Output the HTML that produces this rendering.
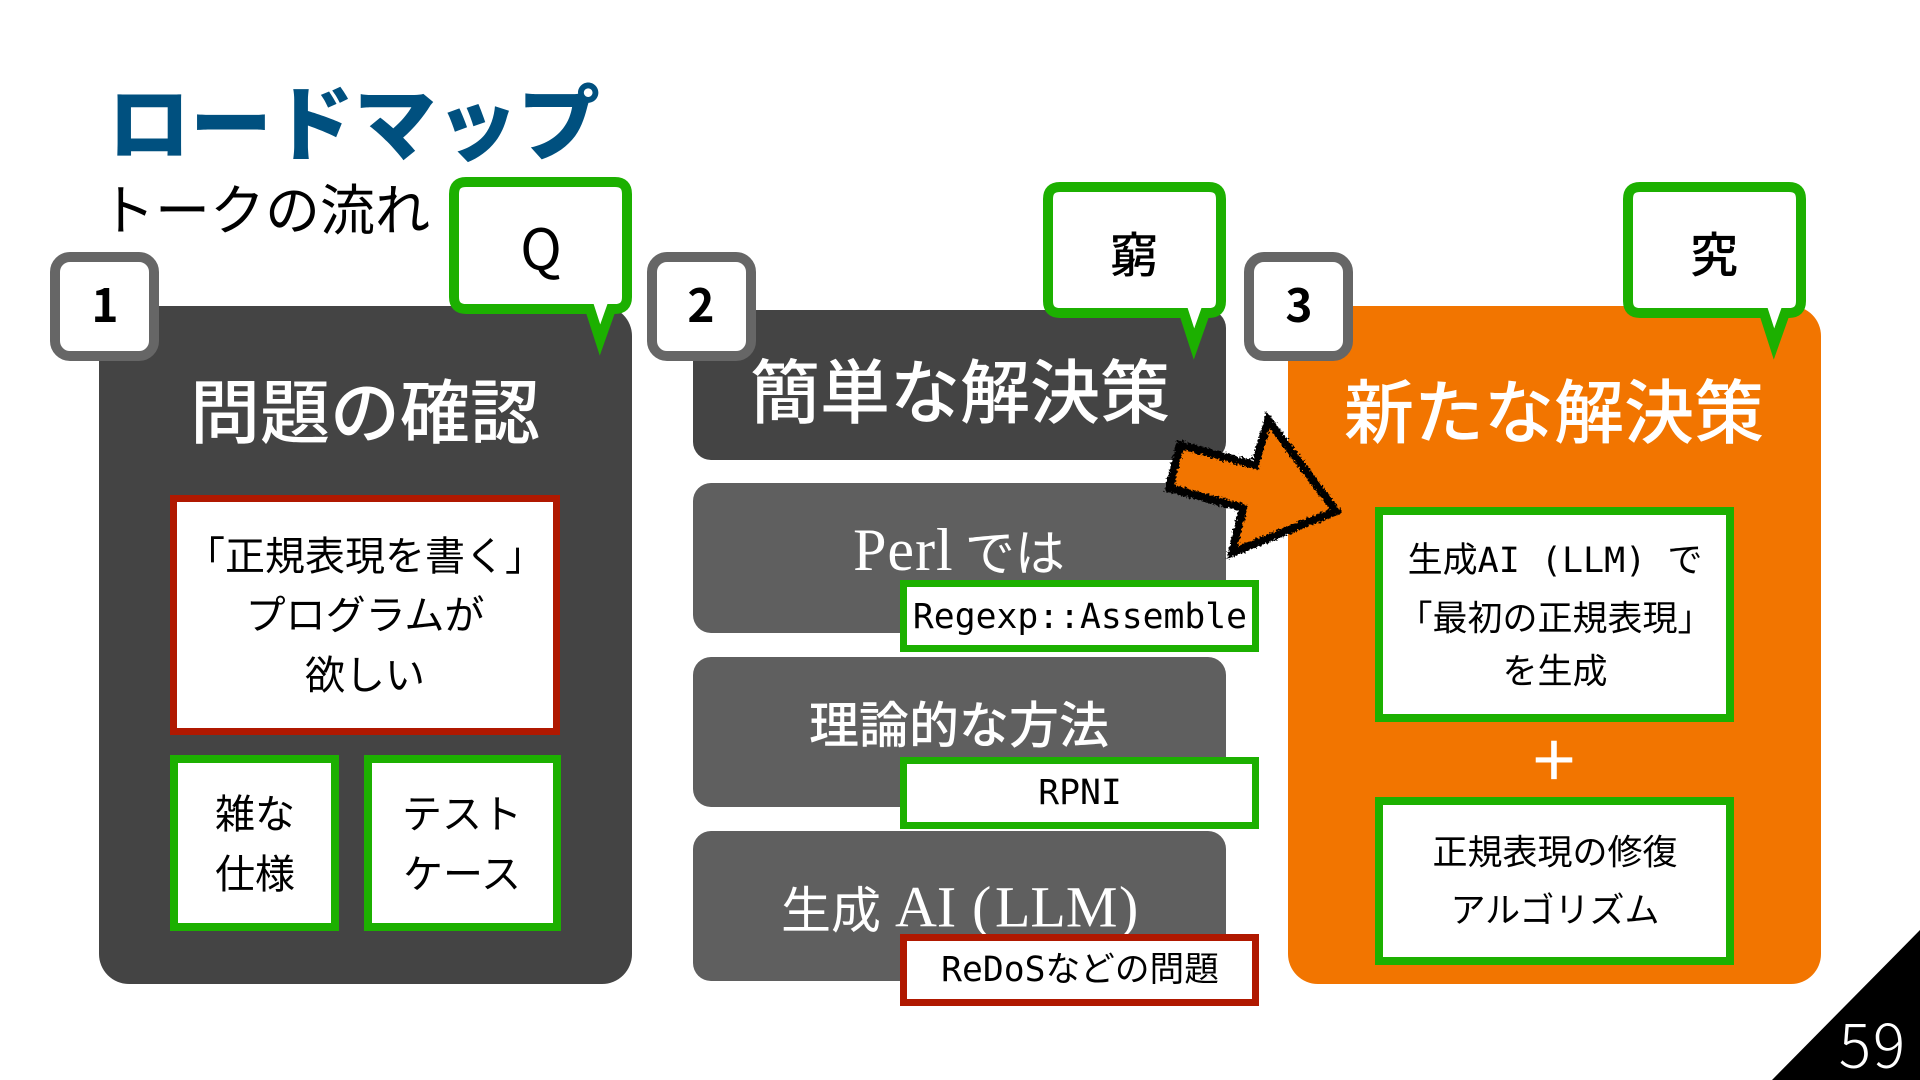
<!DOCTYPE html>
<html lang="ja"><head><meta charset="utf-8"><title>ロードマップ</title>
<style>
html,body{margin:0;padding:0;background:#fff;width:1920px;height:1080px;overflow:hidden}
svg{display:block}
text{font-family:"Noto Sans CJK JP","Liberation Sans",sans-serif;text-anchor:middle;dominant-baseline:central}
.m{font-family:"DejaVu Sans Mono","Noto Sans CJK JP",monospace}
.s{font-family:"Liberation Serif","Noto Sans CJK JP",serif;font-size:58px}
.st{font-family:"Liberation Serif","Noto Sans CJK JP",serif;font-size:58px;text-anchor:start}
.jt{text-anchor:start}
</style></head><body>
<svg width="1920" height="1080" viewBox="0 0 1920 1080" xmlns="http://www.w3.org/2000/svg">
<defs>
<filter id="rough" x="-10%" y="-10%" width="120%" height="120%">
<feTurbulence type="fractalNoise" baseFrequency="0.45" numOctaves="2" seed="4"/>
<feDisplacementMap in="SourceGraphic" scale="7" xChannelSelector="R" yChannelSelector="G"/>
</filter>
</defs>
<text x="354" y="118" font-size="82" font-weight="900" fill="#00507f">ロードマップ</text>
<text x="265" y="206" font-size="55" font-weight="400" fill="#000">トークの流れ</text>

<!-- panels -->
<rect x="99" y="306" width="533" height="678" rx="30" fill="#444"/>
<rect x="1288" y="306" width="533" height="678" rx="30" fill="#f27500"/>
<rect x="693" y="310" width="533" height="150" rx="18" fill="#444"/>
<rect x="693" y="483" width="533" height="150" rx="18" fill="#5f5f5f"/>
<rect x="693" y="657" width="533" height="150" rx="18" fill="#5f5f5f"/>
<rect x="693" y="831" width="533" height="150" rx="18" fill="#5f5f5f"/>

<text x="365" y="408" font-size="70" font-weight="500" fill="#fff">問題の確認</text>
<text x="960" y="388" font-size="70" font-weight="500" fill="#fff">簡単な解決策</text>
<text x="1554" y="408" font-size="70" font-weight="500" fill="#fff">新たな解決策</text>

<text x="959" y="550" font-size="50" fill="#fff"><tspan class="s" style="font-size:60px;letter-spacing:1px">Perl</tspan> では</text>
<text x="959" y="722" font-size="50" font-weight="500" fill="#fff">理論的な方法</text>
<text class="jt" x="781" y="907" font-size="50" fill="#fff">生成</text>
<text class="st" x="895" y="907" fill="#fff">AI</text>
<text class="st" x="972" y="907" fill="#fff" font-weight="300">(</text>
<text class="st" x="995" y="907" fill="#fff">LLM</text>
<text class="st" x="1119" y="907" fill="#fff" font-weight="300">)</text>

<!-- panel 1 boxes -->
<rect x="173.5" y="498.5" width="383" height="233" fill="#fff" stroke="#b01800" stroke-width="7"/>
<text x="365" y="553" font-size="40">「正規表現を書く」</text>
<text x="365" y="612" font-size="40">プログラムが</text>
<text x="365" y="672" font-size="40">欲しい</text>
<rect x="174" y="759" width="161" height="168" fill="#fff" stroke="#1cb000" stroke-width="8"/>
<rect x="368" y="759" width="189" height="168" fill="#fff" stroke="#1cb000" stroke-width="8"/>
<text x="255" y="811" font-size="40">雑な</text>
<text x="255" y="871" font-size="40">仕様</text>
<text x="462" y="811" font-size="40">テスト</text>
<text x="462" y="871" font-size="40">ケース</text>

<!-- middle boxes -->
<rect x="903.5" y="583.5" width="352" height="65" fill="#fff" stroke="#1cb000" stroke-width="7"/>
<rect x="903.5" y="760.5" width="352" height="65" fill="#fff" stroke="#1cb000" stroke-width="7"/>
<rect x="903.5" y="937.5" width="352" height="65" fill="#fff" stroke="#b01800" stroke-width="7"/>
<text class="m" x="1080" y="617" font-size="34.7">Regexp::Assemble</text>
<text class="m" x="1080" y="793" font-size="34.7">RPNI</text>
<text class="m" x="1080" y="970" font-size="34.7">ReDoSなどの問題</text>

<!-- panel 3 boxes -->
<rect x="1379" y="511" width="351" height="207" fill="#fff" stroke="#1cb000" stroke-width="8"/>
<rect x="1379" y="801" width="351" height="160" fill="#fff" stroke="#1cb000" stroke-width="8"/>
<text class="m" x="1555" y="561" font-size="35">生成AI (LLM) で</text>
<text x="1555" y="616" font-size="35">「最初の正規表現」</text>
<text x="1555" y="669" font-size="35">を生成</text>
<text x="1555" y="850" font-size="35">正規表現の修復</text>
<text x="1555" y="908" font-size="35">アルゴリズム</text>
<text x="1554" y="755" font-size="76" fill="#fff">+</text>

<!-- callouts -->
<path d="M466 182H615Q627 182 627 194V297Q627 309 615 309H611L600 340L590 309H466Q454 309 454 297V194Q454 182 466 182Z" fill="#fff" stroke="#1cb000" stroke-width="10" stroke-miterlimit="10"/>
<path d="M1060 187H1209Q1221 187 1221 199V301Q1221 313 1209 313H1205L1194 344L1184 313H1060Q1048 313 1048 301V199Q1048 187 1060 187Z" fill="#fff" stroke="#1cb000" stroke-width="10" stroke-miterlimit="10"/>
<path d="M1640 187H1789Q1801 187 1801 199V301Q1801 313 1789 313H1785L1774 344L1764 313H1640Q1628 313 1628 301V199Q1628 187 1640 187Z" fill="#fff" stroke="#1cb000" stroke-width="10" stroke-miterlimit="10"/>
<text x="541" y="246" font-size="56" fill="#000">Q</text>
<text x="1134" y="251" font-size="48" font-weight="500" fill="#000">窮</text>
<text x="1714" y="251" font-size="48" font-weight="500" fill="#000">究</text>

<!-- badges -->
<rect x="55" y="257" width="99" height="99" rx="15" fill="#fff" stroke="#666" stroke-width="10"/>
<rect x="652" y="257" width="99" height="99" rx="15" fill="#fff" stroke="#666" stroke-width="10"/>
<rect x="1249" y="257" width="99" height="99" rx="15" fill="#fff" stroke="#666" stroke-width="10"/>
<text x="105" y="303" font-size="46" font-weight="700" fill="#000">1</text>
<text x="701" y="303" font-size="46" font-weight="700" fill="#000">2</text>
<text x="1299" y="303" font-size="46" font-weight="700" fill="#000">3</text>

<!-- arrow -->
<polygon points="1180,445 1255,465 1268,420 1336,511 1232,553 1243,508 1169,488" fill="#f27500"/>
<g filter="url(#rough)" fill="none" stroke="#000" stroke-linejoin="miter" stroke-miterlimit="6">
<polygon points="1180,445 1255,465 1268,420 1336,511 1232,553 1243,508 1169,488" stroke-width="8"/>
</g>

<!-- page number -->
<polygon points="1920,930 1920,1080 1772,1080" fill="#000"/>
<text x="1873" y="1042" font-size="60" font-weight="300" fill="#fff" style="letter-spacing:2px">59</text>
</svg>
</body></html>
